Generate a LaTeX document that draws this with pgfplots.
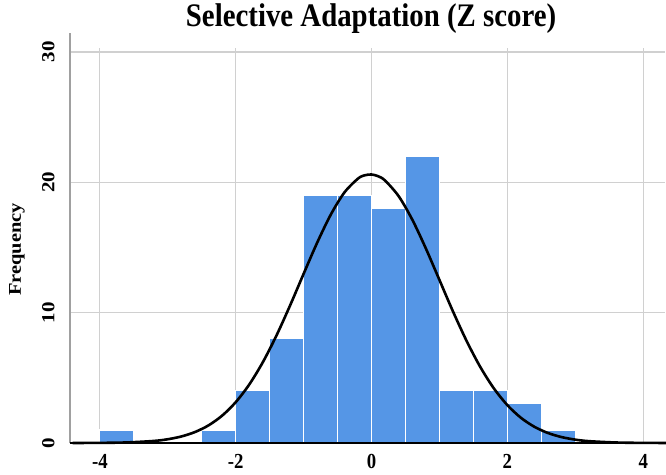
\documentclass[border=0pt]{standalone}
\usepackage{fontspec}
\setmainfont{Liberation Serif}
\newfontfamily\hfont[FakeStretch=0.877]{Liberation Serif}
\newfontfamily\vfont[FakeStretch=1.14]{Liberation Serif}
\usepackage{pgfplots}
\usepackage{pgfplotstable}
\pgfplotsset{compat=1.18}
\definecolor{barblue}{RGB}{85,150,230}
\definecolor{gridgray}{RGB}{208,208,208}
\definecolor{axgray}{RGB}{160,160,160}
\pgfplotstableread{
x y
-4.4 0.002
-4.0 0.010
-3.6 0.044
-3.2 0.160
-3.0 0.289
-2.8 0.502
-2.6 0.841
-2.4 1.354
-2.2 2.099
-2.0 3.131
-1.8 4.493
-1.6 6.207
-1.4 8.248
-1.2 10.549
-1.0 12.984
-0.8 15.378
-0.6 17.525
-0.4 19.220
-0.2 20.282
-0.1 20.537
0.0 20.596
0.1 20.458
0.2 20.126
0.4 18.925
0.6 17.125
0.8 14.912
1.0 12.494
1.2 10.073
1.4 7.818
1.6 5.836
1.8 4.192
2.0 2.898
2.2 1.929
2.4 1.235
2.6 0.761
2.8 0.451
3.0 0.257
3.2 0.141
3.6 0.038
4.0 0.009
4.4 0.002
}\curvetable
\pgfplotstableread{
x y
-4.0 1
-3.5 1
}\barsA
\pgfplotstableread{
x y
-2.5 1
-2.0 4
-1.5 8
-1.0 19
-0.5 19
0.0 18
0.5 22
1.0 4
1.5 4
2.0 3
2.5 1
3.0 1
}\barsB
\begin{document}
\begin{tikzpicture}
\path[use as bounding box] (-70bp,-32bp) rectangle (596bp,443bp);
\begin{axis}[
  at={(0,0)}, anchor=south west,
  width=595bp, height=395bp, scale only axis,
  xmin=-4.44, xmax=4.32, ymin=0, ymax=30.3,
  axis lines*=left,
  clip=false,
  x axis line style={black, line width=2.2bp},
  y axis line style={axgray, line width=1.3bp, shorten >=-15bp},
  xtick={-4,-2,0,2,4}, xticklabels={-4,-2,0,2,4},
  ytick={0,10,20,30}, yticklabels={0,10,20,30},
  major tick length=0pt,
  grid=major, major grid style={gridgray, line width=1.2bp},
  xticklabel style={font=\hfont\bfseries\fontsize{21.5}{21.5}\selectfont},
  xticklabel shift=8bp,
  yticklabel style={font=\vfont\bfseries\fontsize{18.5}{18.5}\selectfont, rotate=90, anchor=south},
  yticklabel shift=12bp,
  ylabel={Frequency},
  ylabel style={font=\vfont\bfseries\fontsize{18}{18}\selectfont, at={(axis description cs:-0.089,0.49)}, anchor=center},
  title={Selective Adaptation (Z score)},
  title style={font=\hfont\bfseries\fontsize{33}{33}\selectfont, at={(axis description cs:0.506,1)}, anchor=base, yshift=15.5bp},
]
\addplot[ybar interval, fill=barblue, draw=white, line width=1.2bp] table {\barsA};
\addplot[ybar interval, fill=barblue, draw=white, line width=1.2bp] table {\barsB};
\addplot[black, line width=2.6bp, smooth] table {\curvetable};
\draw[black, line width=2.2bp] (rel axis cs:0,0) -- (rel axis cs:1,0);
\end{axis}
\end{tikzpicture}
\end{document}
